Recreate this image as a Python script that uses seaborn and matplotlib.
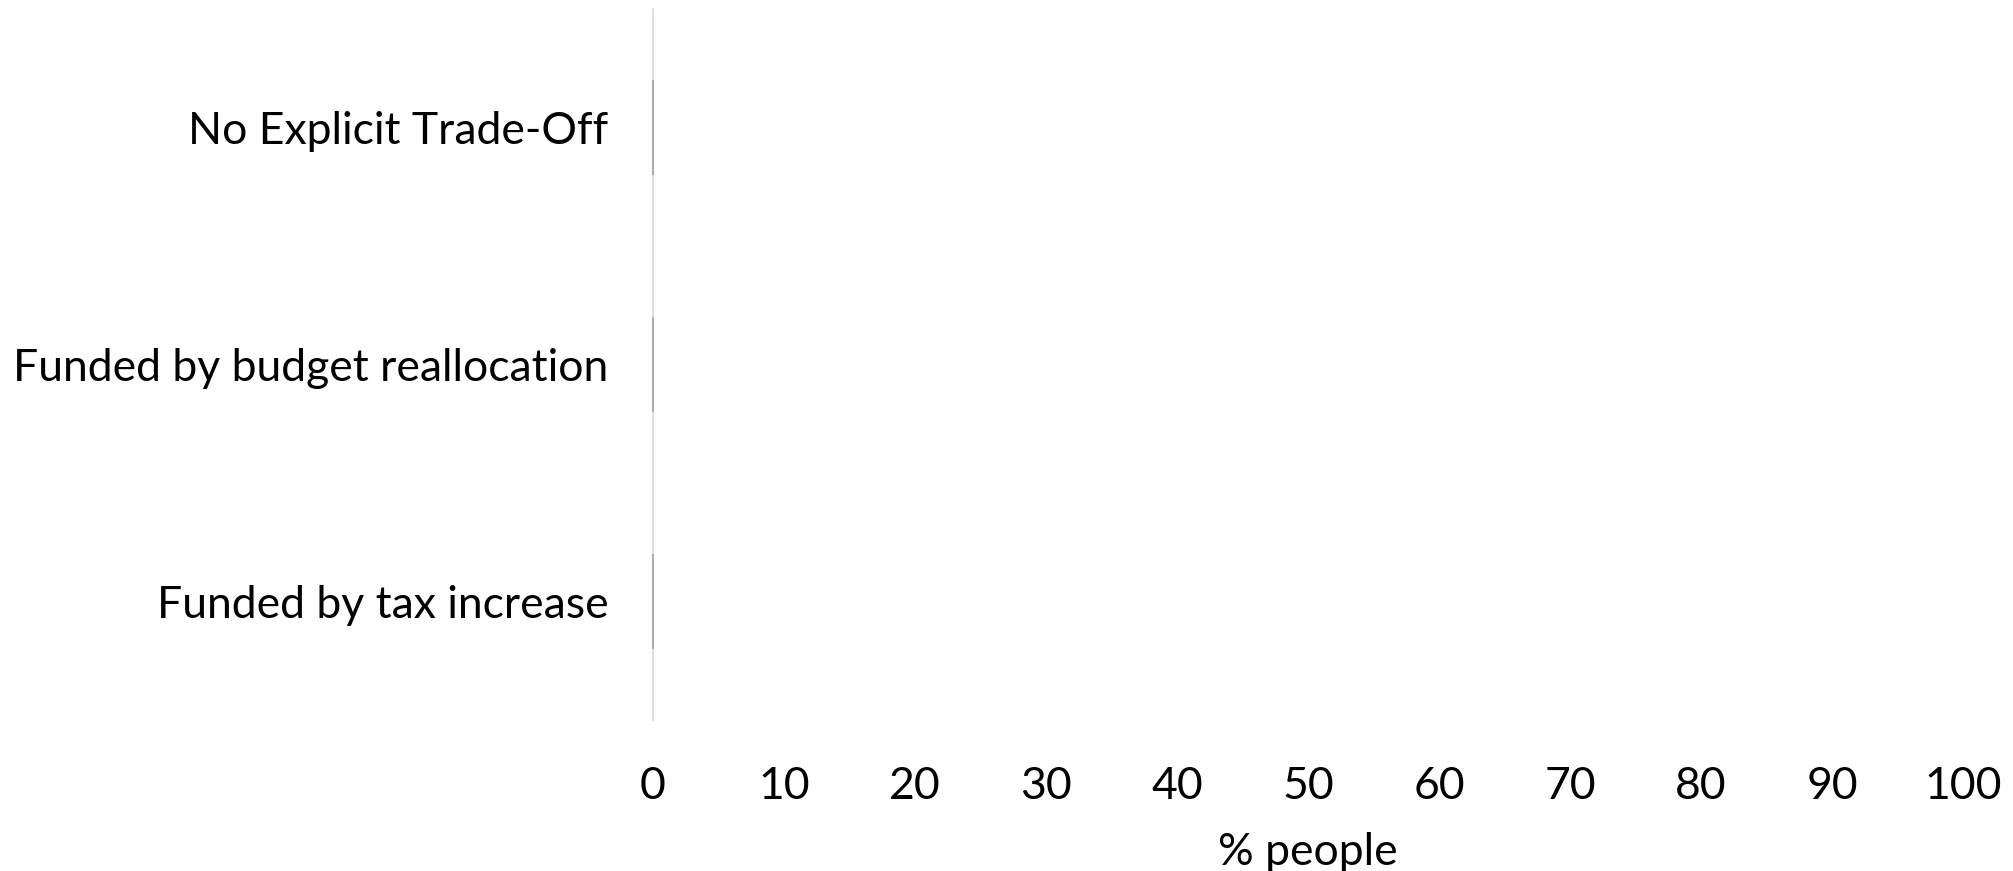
import matplotlib
matplotlib.use("Agg")
import matplotlib.pyplot as plt
import seaborn as sns
import pandas as pd

# data: every bar sits at zero
categories = ["No Explicit Trade-Off", "Funded by budget reallocation", "Funded by tax increase"]
values = [0, 0, 0]
x_ticks = [0, 10, 20, 30, 40, 50, 60, 70, 80, 90, 100]

df = pd.DataFrame({"category": categories, "pct": values})

sns.set_style("white")
plt.rcParams["font.family"] = ["Lato", "DejaVu Sans"]
plt.rcParams["text.color"] = "black"
plt.rcParams["xtick.color"] = "black"
plt.rcParams["ytick.color"] = "black"
plt.rcParams["axes.labelcolor"] = "black"

fig = plt.figure(figsize=(20.13, 8.71), dpi=100)
ax = fig.add_axes([653 / 2013, 1 - 720 / 871, (1963 - 653) / 2013, (720 - 9) / 871])

ax.spines["left"].set_zorder(0.5)
sns.barplot(data=df, x="pct", y="category", orient="h", color="#aeaac6",
            edgecolor="#aeaac6", linewidth=1.5, width=0.4, ax=ax, zorder=3)
for p in ax.patches:
    p.set_clip_on(False)

ax.set_xlim(0, 100)
ax.set_ylim(2.5, -0.5)
ax.set_xticks(x_ticks)
ax.set_xticklabels([str(t) for t in x_ticks])
ax.tick_params(axis="x", length=0, pad=33, labelsize=32)
ax.tick_params(axis="y", length=0, pad=32, labelsize=32)
ax.set_xlabel("% people", fontsize=32, labelpad=18)
ax.set_ylabel("")

for s in ["top", "right", "bottom"]:
    ax.spines[s].set_visible(False)
ax.spines["left"].set_color("#d9d9d9")
ax.spines["left"].set_linewidth(1.2)

fig.savefig("out.png", dpi=100)
